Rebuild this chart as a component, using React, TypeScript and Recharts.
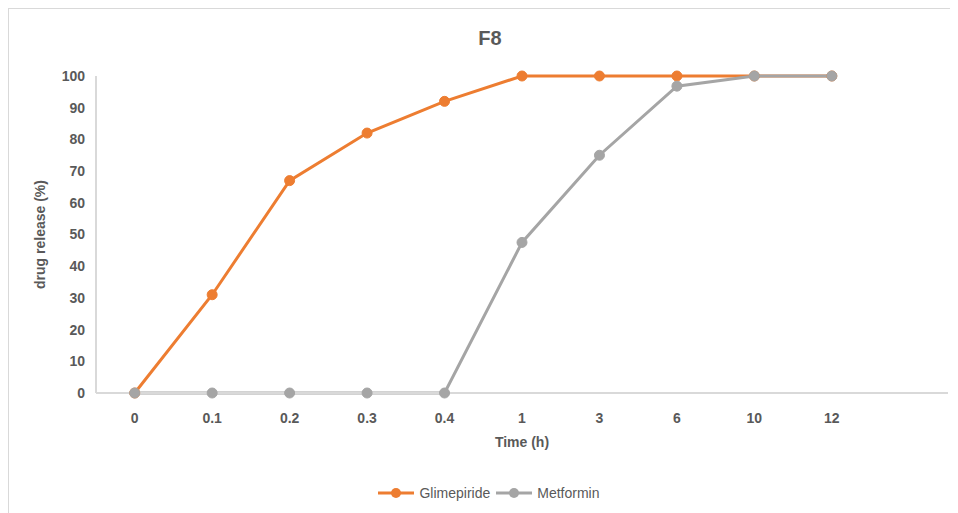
import React from 'react';
import { LineChart, Line, XAxis, YAxis, Legend, Label } from 'recharts';

const categories = ['0', '0.1', '0.2', '0.3', '0.4', '1', '3', '6', '10', '12', ''];
const glimepiride: (number | null)[] = [0, 31, 67, 82, 92, 100, 100, 100, 100, 100, null];
const metformin: (number | null)[] = [0, 0, 0, 0, 0, 47.5, 75, 96.8, 100, 100, null];
const yTicks = [0, 10, 20, 30, 40, 50, 60, 70, 80, 90, 100];

const data = categories.map((c, i) => ({
  time: c,
  Glimepiride: glimepiride[i],
  Metformin: metformin[i],
}));

const FONT = '"Liberation Sans", Arial, sans-serif';
const TEXT = '#595959';
const ORANGE = '#ED7D31';
const GRAY = '#A5A5A5';

const LegendContent = () => (
  <div style={{ paddingTop: 50, height: 20, display: 'flex', justifyContent: 'center', alignItems: 'center', fontFamily: FONT, fontSize: 14, color: TEXT }}>
    {[{ n: 'Glimepiride', c: ORANGE }, { n: 'Metformin', c: GRAY }].map((s) => (
      <div key={s.n} style={{ display: 'flex', alignItems: 'center', marginRight: 6 }}>
        <svg width={36} height={12} style={{ marginRight: 5 }}>
          <line x1={0} y1={6} x2={36} y2={6} stroke={s.c} strokeWidth={3} />
          <circle cx={18} cy={6} r={5} fill={s.c} />
        </svg>
        <span>{s.n}</span>
      </div>
    ))}
  </div>
);

export default function App() {
  return (
    <div style={{ position: 'relative', width: 949, height: 504, border: '1px solid #d9d9d9', borderRight: 'none', borderBottom: 'none', background: '#fff' }}>
      <div style={{ position: 'absolute', left: 0, width: 962, top: 18, textAlign: 'center', fontFamily: FONT, fontWeight: 'bold', fontSize: 20, color: TEXT }}>F8</div>
      <LineChart width={949} height={504} data={data} margin={{ top: 67, right: 10, bottom: 10, left: 27 }}>
        <XAxis
          dataKey="time"
          height={40}
          tickLine={false}
          tickSize={0}
          tickMargin={20}
          padding={{ left: 38.7, right: 38.7 }}
          axisLine={{ stroke: '#d9d9d9', strokeWidth: 2 }}
          tick={{ fill: TEXT, fontSize: 14, fontWeight: 'bold', fontFamily: FONT }}
          interval={0}
        >
          <Label value="Time (h)" position="bottom" offset={4} style={{ fill: TEXT, fontSize: 14, fontWeight: 'bold', fontFamily: FONT }} />
        </XAxis>
        <YAxis
          width={60}
          domain={[0, 100]}
          ticks={yTicks}
          tickLine={false}
          tickSize={0}
          tickMargin={11}
          axisLine={{ stroke: '#d9d9d9', strokeWidth: 2 }}
          tick={{ fill: TEXT, fontSize: 14, fontWeight: 'bold', fontFamily: FONT }}
        >
          <Label value="drug release (%)" angle={-90} position="insideLeft" offset={4} style={{ textAnchor: 'middle', fill: TEXT, fontSize: 14, fontWeight: 'bold', fontFamily: FONT }} />
        </YAxis>
        <Legend verticalAlign="bottom" content={<LegendContent />} />
        <Line type="linear" dataKey="Glimepiride" stroke={ORANGE} strokeWidth={3} dot={{ r: 5, fill: ORANGE, stroke: ORANGE, strokeWidth: 1 }} isAnimationActive={false} />
        <Line type="linear" dataKey="Metformin" stroke={GRAY} strokeWidth={3} dot={{ r: 5, fill: GRAY, stroke: GRAY, strokeWidth: 1 }} isAnimationActive={false} />
      </LineChart>
    </div>
  );
}
